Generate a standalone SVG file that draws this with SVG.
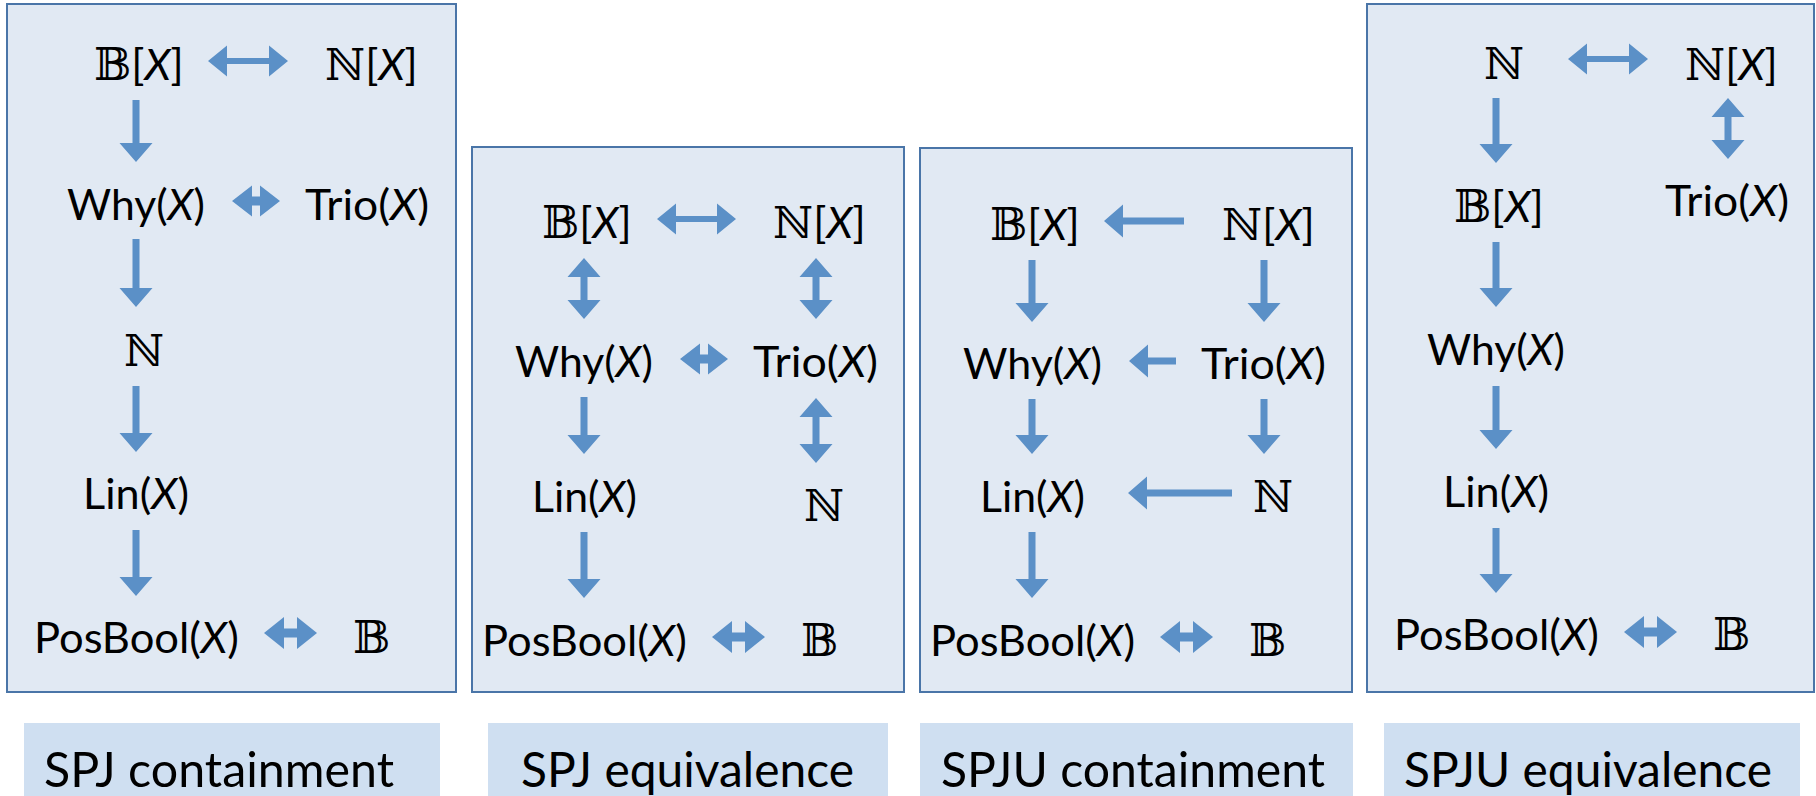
<svg xmlns="http://www.w3.org/2000/svg" width="1816" height="796" viewBox="0 0 1816 796">
  <style>
    .panel { fill: #E1E9F3; stroke: #4A75A8; stroke-width: 2; }
    .caption { fill: #CFDFF1; }
    .arr { fill: #5B90C7; }
    .t { font-family: Lato, "Open Sans", "Liberation Sans", sans-serif; font-size: 43px; fill: #000; }
    .cap { font-family: Lato, "Open Sans", "Liberation Sans", sans-serif; font-size: 48px; fill: #000; }
    .m { font-family: "DejaVu Serif", "DejaVu Sans", serif; font-size: 44px; fill: #000; font-style: normal; }
    .i { font-style: italic; }
  </style>
  <rect width="1816" height="796" fill="#FFFFFF"/>

  <!-- panel frames -->
  <g id="frames">
    <rect class="panel" x="7" y="4" width="449" height="688"/>
    <rect class="panel" x="472" y="147" width="432" height="545"/>
    <rect class="panel" x="920" y="148" width="432" height="544"/>
    <rect class="panel" x="1367" y="4" width="447" height="688"/>
  </g>

  <!-- captions -->
  <g id="caption-spj-containment">
    <rect class="caption" x="24" y="723" width="416" height="80"/>
    <text class="cap" x="44" y="787" textLength="350" lengthAdjust="spacingAndGlyphs">SPJ containment</text>
  </g>
  <g id="caption-spj-equivalence">
    <rect class="caption" x="488" y="723" width="400" height="80"/>
    <text class="cap" x="521" y="787" textLength="333" lengthAdjust="spacingAndGlyphs">SPJ equivalence</text>
  </g>
  <g id="caption-spju-containment">
    <rect class="caption" x="920" y="723" width="433" height="80"/>
    <text class="cap" x="941" y="787" textLength="384" lengthAdjust="spacingAndGlyphs">SPJU containment</text>
  </g>
  <g id="caption-spju-equivalence">
    <rect class="caption" x="1384" y="723" width="416" height="80"/>
    <text class="cap" x="1404" y="787" textLength="368" lengthAdjust="spacingAndGlyphs">SPJU equivalence</text>
  </g>

  <!-- connectors -->
  <g id="connectors">
    <!-- SPJ containment -->
    <polygon class="arr" points="208,61 227,45.5 227,58 269,58 269,45.5 288,61 269,76.5 269,64 227,64 227,76.5"/>
    <polygon class="arr" points="232,201 252,185.5 252,196.5 260,196.5 260,185.5 280,201 260,216.5 260,205.5 252,205.5 252,216.5"/>
    <polygon class="arr" points="264,633 284,617 284,628.5 297,628.5 297,617 317,633 297,649 297,637.5 284,637.5 284,649"/>
    <polygon class="arr" points="132.5,100 139.5,100 139.5,143 152.5,143 136,162 119.5,143 132.5,143"/>
    <polygon class="arr" points="132.5,239 139.5,239 139.5,288 152.5,288 136,307 119.5,288 132.5,288"/>
    <polygon class="arr" points="132.5,386 139.5,386 139.5,433 152.5,433 136,452 119.5,433 132.5,433"/>
    <polygon class="arr" points="132.5,530 139.5,530 139.5,577 152.5,577 136,596 119.5,577 132.5,577"/>

    <!-- SPJ equivalence -->
    <polygon class="arr" points="657,219 676,203.5 676,216 717,216 717,203.5 736,219 717,234.5 717,222 676,222 676,234.5"/>
    <polygon class="arr" points="584,258 600.5,277 587.5,277 587.5,300 600.5,300 584,319 567.5,300 580.5,300 580.5,277 567.5,277"/>
    <polygon class="arr" points="816,258 832.5,277 819.5,277 819.5,300 832.5,300 816,319 799.5,300 812.5,300 812.5,277 799.5,277"/>
    <polygon class="arr" points="680,359 700,343.5 700,354.5 708,354.5 708,343.5 728,359 708,374.5 708,363.5 700,363.5 700,374.5"/>
    <polygon class="arr" points="580.5,397 587.5,397 587.5,435 600.5,435 584,454 567.5,435 580.5,435"/>
    <polygon class="arr" points="816,398 832.5,417 819.5,417 819.5,444 832.5,444 816,463 799.5,444 812.5,444 812.5,417 799.5,417"/>
    <polygon class="arr" points="580.5,532 587.5,532 587.5,579 600.5,579 584,598 567.5,579 580.5,579"/>
    <polygon class="arr" points="712,637 732,621 732,632.5 745,632.5 745,621 765,637 745,653 745,641.5 732,641.5 732,653"/>

    <!-- SPJU containment -->
    <polygon class="arr" points="1104,221 1123,204.5 1123,217.5 1184,217.5 1184,224.5 1123,224.5 1123,237.5"/>
    <polygon class="arr" points="1028.5,260 1035.5,260 1035.5,303 1048.5,303 1032,322 1015.5,303 1028.5,303"/>
    <polygon class="arr" points="1260.5,260 1267.5,260 1267.5,303 1280.5,303 1264,322 1247.5,303 1260.5,303"/>
    <polygon class="arr" points="1129,361 1148,344.5 1148,357.5 1176,357.5 1176,364.5 1148,364.5 1148,377.5"/>
    <polygon class="arr" points="1028.5,399 1035.5,399 1035.5,435 1048.5,435 1032,454 1015.5,435 1028.5,435"/>
    <polygon class="arr" points="1260.5,399 1267.5,399 1267.5,435 1280.5,435 1264,454 1247.5,435 1260.5,435"/>
    <polygon class="arr" points="1128,493 1147,476.5 1147,489.5 1232,489.5 1232,496.5 1147,496.5 1147,509.5"/>
    <polygon class="arr" points="1028.5,532 1035.5,532 1035.5,579 1048.5,579 1032,598 1015.5,579 1028.5,579"/>
    <polygon class="arr" points="1160,637 1180,621 1180,632.5 1193,632.5 1193,621 1213,637 1193,653 1193,641.5 1180,641.5 1180,653"/>

    <!-- SPJU equivalence -->
    <polygon class="arr" points="1568,59 1587,43.5 1587,56 1629,56 1629,43.5 1648,59 1629,74.5 1629,62 1587,62 1587,74.5"/>
    <polygon class="arr" points="1492.5,98 1499.5,98 1499.5,144 1512.5,144 1496,163 1479.5,144 1492.5,144"/>
    <polygon class="arr" points="1728,98 1744.5,117 1731.5,117 1731.5,140 1744.5,140 1728,159 1711.5,140 1724.5,140 1724.5,117 1711.5,117"/>
    <polygon class="arr" points="1492.5,242 1499.5,242 1499.5,288 1512.5,288 1496,307 1479.5,288 1492.5,288"/>
    <polygon class="arr" points="1492.5,386 1499.5,386 1499.5,430 1512.5,430 1496,449 1479.5,430 1492.5,430"/>
    <polygon class="arr" points="1492.5,528 1499.5,528 1499.5,574 1512.5,574 1496,593 1479.5,574 1492.5,574"/>
    <polygon class="arr" points="1624,632 1644,616 1644,627.5 1657,627.5 1657,616 1677,632 1657,648 1657,636.5 1644,636.5 1644,648"/>
  </g>

  <!-- SPJ containment nodes -->
  <g id="p1-bx"><text class="t" x="94" y="80"><tspan class="m">𝔹</tspan>[<tspan class="i">X</tspan>]</text></g>
  <g id="p1-nx"><text class="t" x="325" y="80"><tspan class="m">ℕ</tspan>[<tspan class="i">X</tspan>]</text></g>
  <g id="p1-why"><text class="t" x="67" y="220" textLength="138" lengthAdjust="spacingAndGlyphs">Why(<tspan class="i">X</tspan>)</text></g>
  <g id="p1-trio"><text class="t" x="305" y="220" textLength="124" lengthAdjust="spacingAndGlyphs">Trio(<tspan class="i">X</tspan>)</text></g>
  <g id="p1-n"><text class="m" x="124" y="366">ℕ</text></g>
  <g id="p1-lin"><text class="t" x="83" y="509" textLength="106" lengthAdjust="spacingAndGlyphs">Lin(<tspan class="i">X</tspan>)</text></g>
  <g id="p1-posbool"><text class="t" x="34" y="653" textLength="205" lengthAdjust="spacingAndGlyphs">PosBool(<tspan class="i">X</tspan>)</text></g>
  <g id="p1-b"><text class="m" x="353" y="653">𝔹</text></g>

  <!-- SPJ equivalence nodes -->
  <g id="p2-bx"><text class="t" x="542" y="238"><tspan class="m">𝔹</tspan>[<tspan class="i">X</tspan>]</text></g>
  <g id="p2-nx"><text class="t" x="773" y="238"><tspan class="m">ℕ</tspan>[<tspan class="i">X</tspan>]</text></g>
  <g id="p2-why"><text class="t" x="515" y="377" textLength="138" lengthAdjust="spacingAndGlyphs">Why(<tspan class="i">X</tspan>)</text></g>
  <g id="p2-trio"><text class="t" x="753" y="377" textLength="125" lengthAdjust="spacingAndGlyphs">Trio(<tspan class="i">X</tspan>)</text></g>
  <g id="p2-lin"><text class="t" x="532" y="512" textLength="105" lengthAdjust="spacingAndGlyphs">Lin(<tspan class="i">X</tspan>)</text></g>
  <g id="p2-n"><text class="m" x="804" y="521">ℕ</text></g>
  <g id="p2-posbool"><text class="t" x="482" y="656" textLength="205" lengthAdjust="spacingAndGlyphs">PosBool(<tspan class="i">X</tspan>)</text></g>
  <g id="p2-b"><text class="m" x="801" y="656">𝔹</text></g>

  <!-- SPJU containment nodes -->
  <g id="p3-bx"><text class="t" x="990" y="240"><tspan class="m">𝔹</tspan>[<tspan class="i">X</tspan>]</text></g>
  <g id="p3-nx"><text class="t" x="1222" y="240"><tspan class="m">ℕ</tspan>[<tspan class="i">X</tspan>]</text></g>
  <g id="p3-why"><text class="t" x="963" y="379" textLength="139" lengthAdjust="spacingAndGlyphs">Why(<tspan class="i">X</tspan>)</text></g>
  <g id="p3-trio"><text class="t" x="1201" y="379" textLength="125" lengthAdjust="spacingAndGlyphs">Trio(<tspan class="i">X</tspan>)</text></g>
  <g id="p3-lin"><text class="t" x="980" y="512" textLength="105" lengthAdjust="spacingAndGlyphs">Lin(<tspan class="i">X</tspan>)</text></g>
  <g id="p3-n"><text class="m" x="1253" y="512">ℕ</text></g>
  <g id="p3-posbool"><text class="t" x="930" y="656" textLength="205" lengthAdjust="spacingAndGlyphs">PosBool(<tspan class="i">X</tspan>)</text></g>
  <g id="p3-b"><text class="m" x="1249" y="656">𝔹</text></g>

  <!-- SPJU equivalence nodes -->
  <g id="p4-n"><text class="m" x="1484" y="79">ℕ</text></g>
  <g id="p4-nx"><text class="t" x="1685" y="80"><tspan class="m">ℕ</tspan>[<tspan class="i">X</tspan>]</text></g>
  <g id="p4-bx"><text class="t" x="1454" y="222"><tspan class="m">𝔹</tspan>[<tspan class="i">X</tspan>]</text></g>
  <g id="p4-trio"><text class="t" x="1665" y="216" textLength="124" lengthAdjust="spacingAndGlyphs">Trio(<tspan class="i">X</tspan>)</text></g>
  <g id="p4-why"><text class="t" x="1427" y="365" textLength="138" lengthAdjust="spacingAndGlyphs">Why(<tspan class="i">X</tspan>)</text></g>
  <g id="p4-lin"><text class="t" x="1443" y="507" textLength="106" lengthAdjust="spacingAndGlyphs">Lin(<tspan class="i">X</tspan>)</text></g>
  <g id="p4-posbool"><text class="t" x="1394" y="650" textLength="205" lengthAdjust="spacingAndGlyphs">PosBool(<tspan class="i">X</tspan>)</text></g>
  <g id="p4-b"><text class="m" x="1713" y="650">𝔹</text></g>
</svg>
